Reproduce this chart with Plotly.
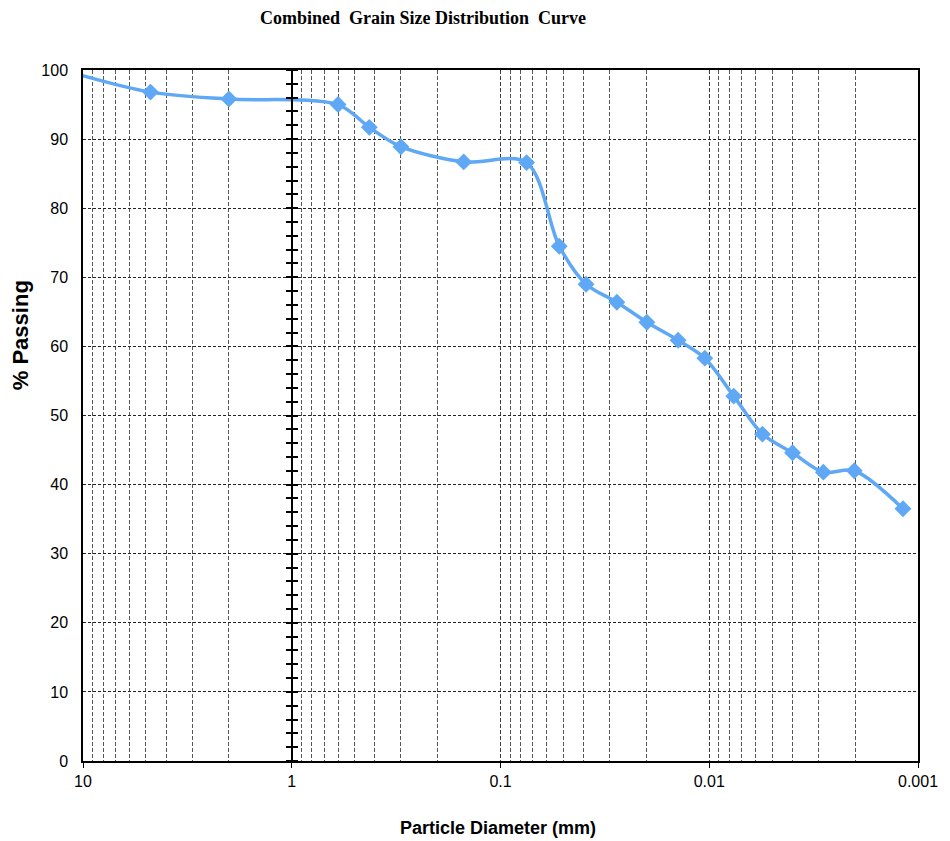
import plotly.graph_objects as go

# Data
diameter_mm = [12.5, 4.75, 2.0, 0.6, 0.425, 0.3, 0.15, 0.075,
               0.0523, 0.0389, 0.0277, 0.0199, 0.0141, 0.0105,
               0.00763, 0.00556, 0.00399, 0.00284, 0.00202, 0.00118]
percent_passing = [100.0, 96.8, 95.8, 95.0, 91.7, 88.9, 86.7, 86.6,
                   74.5, 69.0, 66.4, 63.5, 60.9, 58.3,
                   52.8, 47.3, 44.6, 41.8, 42.0, 36.5]

x_tick_vals = [10, 1, 0.1, 0.01, 0.001]
x_tick_text = ["10", "1", "0.1", "0.01", "0.001"]

title_text = "<b>Combined  Grain Size Distribution  Curve</b>"
x_title = "<b>Particle Diameter (mm)</b>"
y_title = "<b>% Passing</b>"

blue = "#5EA8F5"
grid = "#3a3a3a"
font_sans = "Liberation Sans, Arial, sans-serif"

# the page body has an 8px default margin; compensate so the plot lands where the reference has it
OFF = 8
W, H = 950 - OFF, 841 - OFF
L, R, T, B = 83 - OFF, 29, 70 - OFF, 80
PW, PH = W - L - R, H - T - B


def px_to_paper(px, py):
    return (px - OFF - L) / PW, (H - B - (py - OFF)) / PH


fig = go.Figure()
fig.add_trace(go.Scatter(
    x=diameter_mm, y=percent_passing, mode="lines+markers",
    line=dict(color=blue, width=3.5, shape="spline", smoothing=0.9),
    marker=dict(symbol="diamond", size=13, color=blue),
    showlegend=False, hoverinfo="x+y"))
# anchor traces so the extra axes at d = 1 are drawn
fig.add_trace(go.Scatter(x=[1], y=[0], yaxis="y2", mode="markers",
                         marker=dict(opacity=0), showlegend=False, hoverinfo="skip"))
fig.add_trace(go.Scatter(x=[1], y=[0], yaxis="y3", mode="markers",
                         marker=dict(opacity=0), showlegend=False, hoverinfo="skip"))

xt = px_to_paper(499, 828)
yt = px_to_paper(20, 335)

fig.update_layout(
    width=W, height=H,
    margin=dict(l=L, r=R, t=T, b=B),
    paper_bgcolor="white", plot_bgcolor="white",
    font=dict(family=font_sans, color="black", size=16),
    title=dict(text=title_text, x=(423 - OFF) / W, xanchor="center",
               y=1 - (18 - OFF) / H, yanchor="middle",
               font=dict(family="Liberation Serif, Times New Roman, serif", size=18, color="black")),
    xaxis=dict(
        type="log", range=[1, -3], domain=[0, 1],
        tickvals=x_tick_vals, ticktext=x_tick_text,
        ticks="outside", ticklen=5, tickwidth=1, tickcolor="black",
        showgrid=True, gridcolor=grid, griddash="4px,2px", gridwidth=1,
        minor=dict(dtick="D1", showgrid=True, gridcolor="#555", griddash="4px,2px",
                   gridwidth=1, ticks=""),
        showline=True, linecolor="black", linewidth=1.5, mirror=True,
        zeroline=False, tickfont=dict(size=16)),
    yaxis=dict(
        range=[0, 100], dtick=10, ticks="", showgrid=True, gridcolor="#222",
        griddash="3px,2px", gridwidth=1,
        showline=True, linecolor="black", linewidth=1.5, mirror=True,
        zeroline=False, ticklabelstandoff=10, tickfont=dict(size=16)),
    yaxis2=dict(
        overlaying="y", anchor="free", position=0.25, side="left",
        range=[0, 100], dtick=10, showticklabels=False, showgrid=False,
        zeroline=False, showline=True, linecolor="black", linewidth=1.5,
        ticks="outside", ticklen=5, tickwidth=2, tickcolor="black",
        minor=dict(dtick=2, ticks="outside", ticklen=5, tickwidth=1.5, tickcolor="black")),
    yaxis3=dict(
        overlaying="y", anchor="free", position=0.25, side="right",
        range=[0, 100], dtick=10, showticklabels=False, showgrid=False,
        zeroline=False, showline=False,
        ticks="outside", ticklen=5, tickwidth=2, tickcolor="black",
        minor=dict(dtick=2, ticks="outside", ticklen=5, tickwidth=1.5, tickcolor="black")),
    annotations=[
        dict(text=x_title, xref="paper", yref="paper", x=xt[0], y=xt[1],
             xanchor="center", yanchor="middle", showarrow=False,
             font=dict(size=18, family=font_sans, color="black")),
        dict(text=y_title, xref="paper", yref="paper", x=yt[0], y=yt[1],
             xanchor="center", yanchor="middle", showarrow=False, textangle=-90,
             font=dict(size=22, family=font_sans, color="black")),
    ],
)

fig.write_html("out.html")
